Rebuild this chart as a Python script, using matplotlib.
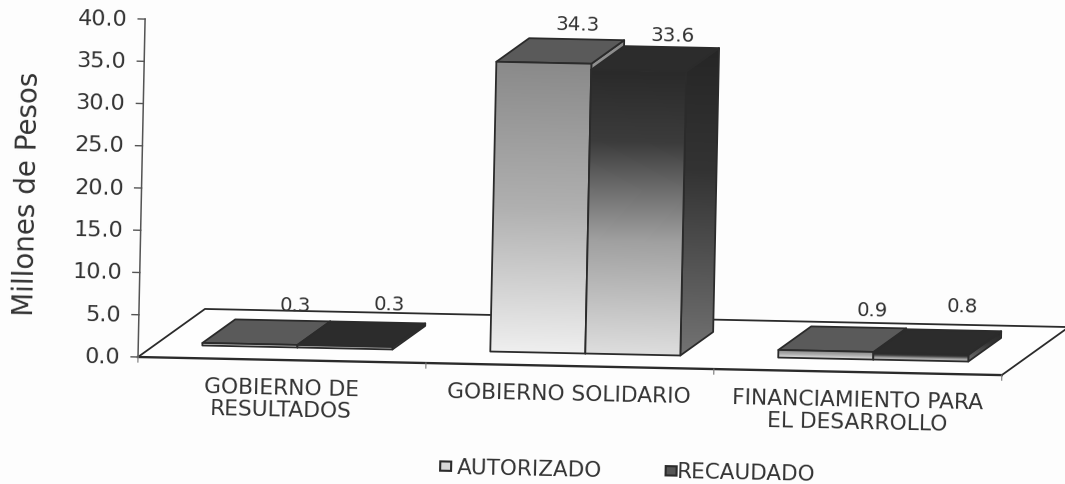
import numpy as np
import matplotlib
matplotlib.use('Agg')
import matplotlib.pyplot as plt
import matplotlib.patches as patches
from matplotlib.colors import LinearSegmentedColormap
from matplotlib.transforms import Affine2D

categories = ['GOBIERNO DE\nRESULTADOS', 'GOBIERNO SOLIDARIO', 'FINANCIAMIENTO PARA\nEL DESARROLLO']
series_names = ['AUTORIZADO', 'RECAUDADO']
autorizado = [0.3, 34.3, 0.9]
recaudado = [0.3, 33.6, 0.8]
y_ticks = [0, 5, 10, 15, 20, 25, 30, 35, 40]

# pixel nudges of the value labels, the chart labels sit off their bars
label_nudge = [[(13, 16), (12, 19)], [(1, 15), (1, 12)], [(14, 18), (9, 24)]]

TILT = -1.2
FLOOR_DX, FLOOR_DY = 0.229, 5.85
BAR_W = 0.33
BAR_START = 0.163
FRONT, BACK = 0.26, 0.75
INK = '#2b2b2b'
TXT = '#333333'

plt.rcParams['font.family'] = 'DejaVu Sans'

cmaps = [
    (LinearSegmentedColormap.from_list('a_front', ['#8a8a8a', '#b0b0b0', '#efefef']), '#5a5a5a', None),
    (LinearSegmentedColormap.from_list('r_front', [(0, '#2a2a2a'), (0.25, '#3c3c3c'), (0.42, '#6e6e6e'),
                                                   (0.6, '#a0a0a0'), (1, '#dedede')]),
     '#2c2c2c',
     LinearSegmentedColormap.from_list('r_side', [(0, '#262626'), (0.4, '#333333'), (1, '#737373')])),
]

fig = plt.figure(figsize=(10.65, 4.85), dpi=100, facecolor='#fdfdfd')
ax = fig.add_axes([0, 0, 1, 1])
ax.axis('off')
ax.set_xlim(-138 / 288, 927 / 288)
ax.set_ylim(-127 / 8.45, 358 / 8.45)

# the scan is slightly rotated, so everything goes through a tilted transData
tilted = ax.transData + Affine2D().rotate_deg_around(138, 127, TILT)


def line(xs, ys, lw=1.2, color=INK, z=2):
    ax.plot(xs, ys, color=color, lw=lw, transform=tilted, zorder=z, solid_capstyle='projecting')


def label(x, y, s, size=16, **args):
    args.setdefault('rotation', TILT)
    return ax.text(x, y, s, fontsize=size, color=TXT, transform=tilted, rotation_mode='anchor', **args)


def face(points, fill, z, grad=None):
    poly = patches.Polygon(points, closed=True, facecolor=fill if grad is None else 'none',
                           edgecolor=INK, lw=1.3, transform=tilted, zorder=z + 0.1, joinstyle='round')
    ax.add_patch(poly)
    if grad is not None:
        pts = np.array(points)
        extent = [pts[:, 0].min(), pts[:, 0].max(), pts[:, 1].min(), pts[:, 1].max()]
        im = ax.imshow(np.linspace(0, 1, 256)[:, None], cmap=grad, vmin=0, vmax=1, extent=extent,
                       aspect='auto', transform=tilted, zorder=z, interpolation='bilinear')
        im.set_clip_path(poly)


def bar3d(x, value, front_cmap, top_color, side_cmap, z):
    x0 = x + FRONT * FLOOR_DX
    x1 = x0 + BAR_W
    v0 = FRONT * FLOOR_DY
    v1 = v0 + value
    dx = (BACK - FRONT) * FLOOR_DX
    dv = (BACK - FRONT) * FLOOR_DY
    side = [(x1, v0), (x1 + dx, v0 + dv), (x1 + dx, v1 + dv), (x1, v1)]
    face(side, '#555555', z, side_cmap if side_cmap is not None else front_cmap)
    face([(x0, v1), (x1, v1), (x1 + dx, v1 + dv), (x0 + dx, v1 + dv)], top_color, z + 1)
    face([(x0, v0), (x1, v0), (x1, v1), (x0, v1)], None, z + 2, front_cmap)
    return x0 + BAR_W / 2 + dx, v1 + dv


# floor
ax.add_patch(patches.Polygon([(0, 0), (3, 0), (3 + FLOOR_DX, FLOOR_DY), (FLOOR_DX, FLOOR_DY)], closed=True,
                             facecolor='#fefefe', edgecolor='none', transform=tilted, zorder=1))
line([0, FLOOR_DX, 3 + FLOOR_DX, 3], [0, FLOOR_DY, FLOOR_DY, 0], lw=1.3)
line([0, 3], [0, 0], lw=1.7)

# value axis
line([0, 0], [y_ticks[0], y_ticks[-1]], lw=1.1, color='#555555')
for t in y_ticks:
    line([-0.024, 0], [t, t], lw=1.0, color='#555555')
    label(-0.062, t, '%.1f' % t, ha='right', va='center')
for i in range(4):
    line([i, i], [0, -0.6], lw=0.8, color='#777777')

for i, name in enumerate(categories):
    label(i + 0.5, -2.1, name, size=15.7, ha='center', va='top', multialignment='center', linespacing=1.1)
    z = 3 + i * 10
    for j, vals in enumerate([autorizado, recaudado]):
        x = i + BAR_START + j * BAR_W
        fc, top, side = cmaps[j]
        tx, tv = bar3d(x, vals[i], fc, top, side, z + j * 4)
        ax.annotate('%.1f' % vals[i], (tx, tv), xycoords=tilted, xytext=label_nudge[i][j],
                    textcoords='offset pixels', ha='center', va='center', fontsize=14.2, color=TXT,
                    rotation=TILT, zorder=50)

label(-0.395, 19.2, 'Millones de Pesos', size=20, rotation=90 + TILT, ha='center', va='center')

# legend
for x, tx, name, fill in zip([1.057, 1.84], [1.116, 1.878], series_names, ['#d8d8d8', '#555555']):
    ax.add_patch(patches.Rectangle((x, -12.7), 0.038, 1.1, facecolor=fill, edgecolor=INK, lw=1.5,
                                   transform=tilted, zorder=5))
    label(tx, -12.2, name, size=15.5, ha='left', va='center')

ax.set_xlim(-138 / 288, 927 / 288)
ax.set_ylim(-127 / 8.45, 358 / 8.45)
fig.savefig('out.png', dpi=100, facecolor=fig.get_facecolor())
